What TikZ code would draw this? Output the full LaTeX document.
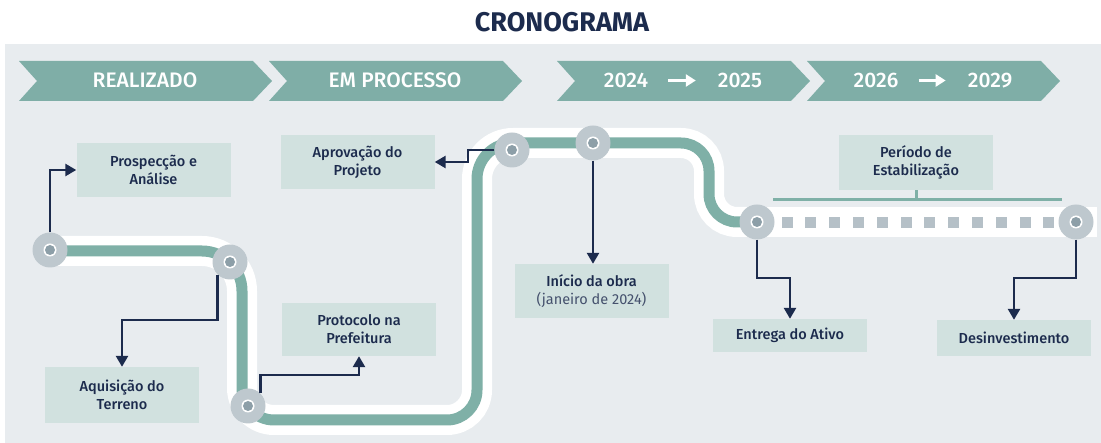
\documentclass[tikz,border=0pt]{standalone}
\usepackage{fontspec}
\setmainfont{Fira Sans}
\newfontfamily\medfont{Fira Sans Medium}
\usetikzlibrary{arrows.meta}
\definecolor{bggray}{HTML}{E8ECEF}
\definecolor{chev}{HTML}{7FAEA7}
\definecolor{trackc}{HTML}{7FB0A7}
\definecolor{boxfill}{HTML}{D1E1DF}
\definecolor{navy}{HTML}{1C2B4D}
\definecolor{navylight}{HTML}{45516D}
\definecolor{stgray}{HTML}{BEC8CE}
\definecolor{dotgray}{HTML}{8D9FA8}
\definecolor{sqc}{HTML}{B5C0C7}
\begin{document}
\begin{tikzpicture}[x=1pt,y=-1pt,
  chevtext/.style={text=white, font=\medfont\fontsize{21}{24}\selectfont, anchor=base, inner sep=0pt},
  infobox/.style={fill=boxfill, minimum width=154pt, inner sep=0pt, align=center, text=navy,
     font=\medfont\fontsize{14.5}{18}\selectfont},
  station/.style={circle, fill=stgray, minimum size=35pt, inner sep=0pt,
     path picture={\fill[white] (path picture bounding box.center) circle (6.5pt);
                   \fill[dotgray] (path picture bounding box.center) circle (5pt);}},
  arr/.style={draw=navy, line width=2.6pt, -{Triangle[width=12pt,length=11pt]}},
  yeararrow/.style={draw=white, line width=3.2pt, -{Triangle[width=12pt,length=10pt]}}
]
\useasboundingbox (0,0) rectangle (1101,443);
\fill[white] (0,0) rectangle (1101,443);
\fill[bggray] (5,44) rectangle (1101,443);

% title
\node[text=navy, font=\bfseries\fontsize{27}{30}\selectfont, anchor=base, inner sep=0pt] (title) at (562,32) {CRONOGRAMA};

% chevrons
\foreach \x in {19,269,557,807} {
  \fill[chev] (\x,61) -- ++(234,0) -- ++(19,20) -- ++(-19,20) -- ++(-234,0) -- ++(18,-20) -- cycle;
}
\node[chevtext] (h1) at (145,88) {REALIZADO};
\node[chevtext] (h2) at (395,88) {EM PROCESSO};
\node[chevtext] (y24) at (626,88) {2024};
\node[chevtext] (y25) at (740,88) {2025};
\node[chevtext] (y26) at (876,88) {2026};
\node[chevtext] (y29) at (990,88) {2029};
\path (y24.base east) ++(0,-7.5) coordinate (a24) (y25.base west) ++(0,-7.5) coordinate (a25);
\draw[yeararrow, shorten <=20pt, shorten >=22pt] (a24) -- (a25);
\path (y26.base east) ++(0,-7.5) coordinate (a26) (y29.base west) ++(0,-7.5) coordinate (a29);
\draw[yeararrow, shorten <=20pt, shorten >=22pt] (a26) -- (a29);

% boxes
\node[infobox, minimum height=54pt] (p1) at (153.5,170) {Prospecção e\\Análise};
\node[infobox, minimum height=56pt] (a1) at (122,395) {Aquisição do\\Terreno};
\node[infobox, minimum height=54pt] (ap) at (357.5,162) {Aprovação do\\Projeto};
\node[infobox, minimum height=53pt] (pr) at (359,329.5) {Protocolo na\\Prefeitura};
\node[infobox, minimum height=54pt] (io) at (591.5,291) {Início da obra\\{\normalfont\color{navylight}(janeiro de 2024)}};
\node[infobox, minimum height=55pt] (pe) at (916,162.5) {Período de\\Estabilização};
\node[infobox, minimum height=33pt] (ea) at (790,335.5) {Entrega do Ativo};
\node[infobox, minimum height=36pt] (de) at (1014,338) {Desinvestimento};

% stabilisation bracket
\coordinate (bl) at (773,200);
\coordinate (br) at (1062,200);
\draw[trackc, line width=3pt] (bl) -- (br);
\draw[trackc, line width=3pt] (pe.south) -- ++(0,10);

% white band to the right
\draw[white, line width=30pt] (758,222) -- (1097,222);
% track
\draw[trackc, line width=11pt, preaction={draw=white, line width=30pt}]
  (50,251) -- (202,251) .. controls (224.1,251) and (242,268.9) .. (242,291)
  -- (242,388) .. controls (242,405.7) and (256.3,420) .. (274,420)
  -- (447,420) .. controls (463.6,420) and (477,406.6) .. (477,390)
  -- (477,179) .. controls (477,159.1) and (493.1,143) .. (513,143)
  -- (681,143) .. controls (696.5,143) and (709,155.5) .. (709,171)
  -- (709,194) .. controls (709,209.5) and (721.5,222) .. (737,222)
  -- (758,222);
% squares
\foreach \i in {0,...,11} {
  \fill[sqc] ({787+23.8*\i-5.5},217) rectangle ++(11,11);
}

% stations
\node[station] (s1) at (50,250) {};
\node[station] (s2) at (230,262) {};
\node[station] (s3) at (248,406) {};
\node[station] (s4) at (512,150) {};
\node[station] (s5) at (593,143) {};
\node[station] (s6) at (757,222) {};
\node[station] (s7) at (1076,222) {};

% connectors
\coordinate (k2) at (122,320);
\coordinate (k3) at (359,375);
\coordinate (k4) at (468,150);
\coordinate (k6) at (757,278);
\coordinate (k7) at (1076,278);
\draw[arr] (s1.north) |- (p1.west);
\draw[arr] (s2.south west) |- (k2) -- (a1.north);
\draw[arr] (s3.north east) |- (k3) -- (pr.south);
\draw[arr] (s4.west) -- (k4) |- (ap.east);
\draw[arr] (s5.south) -- (s5.south |- io.north);
\draw[arr] (s6.south) -- (k6) -| (ea.north);
\draw[arr] (s7.south) -- (k7) -| (de.north);
\end{tikzpicture}
\end{document}
